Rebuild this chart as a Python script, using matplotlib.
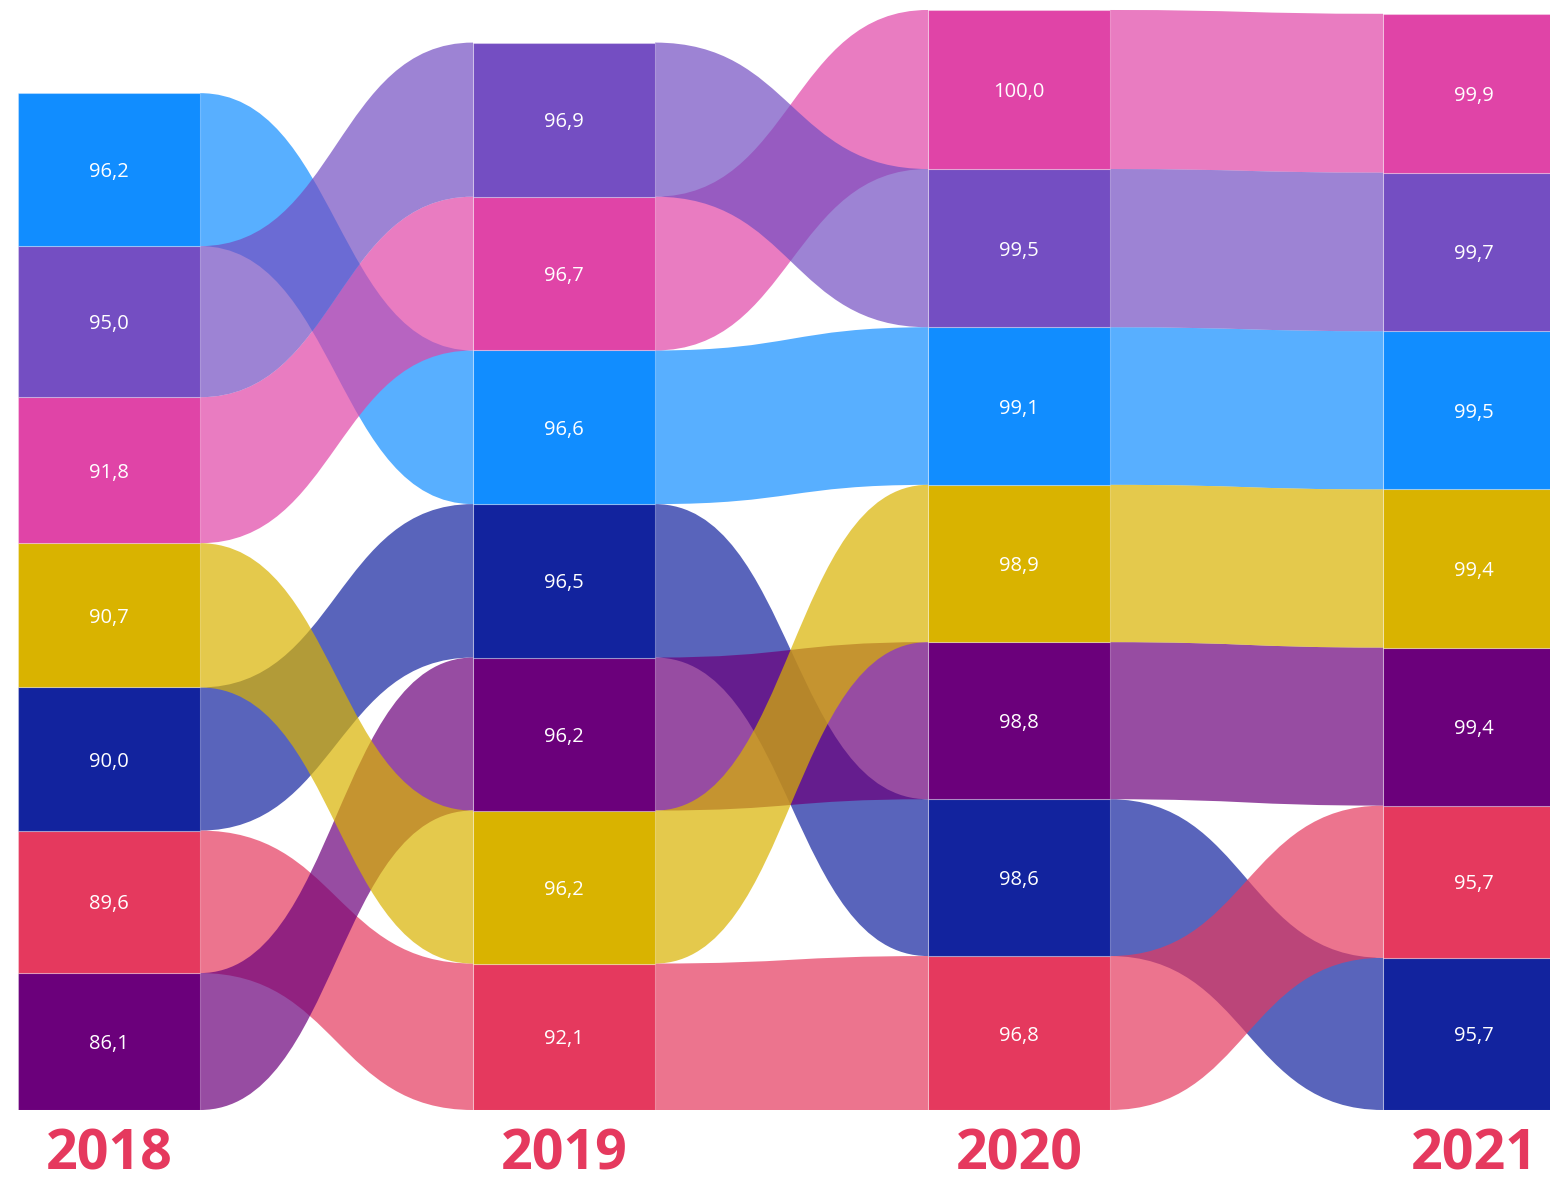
import matplotlib.pyplot as plt
from matplotlib.patches import PathPatch, Rectangle
from matplotlib.path import Path

years = ["2018", "2019", "2020", "2021"]

# series per year, listed from the top of the stack down
order_2018 = ["A", "B", "C", "D", "E", "F", "G"]
values_2018 = [96.2, 95.0, 91.8, 90.7, 90.0, 89.6, 86.1]

order_2019 = ["B", "C", "A", "E", "G", "D", "F"]
values_2019 = [96.9, 96.7, 96.6, 96.5, 96.2, 96.2, 92.1]

order_2020 = ["C", "B", "A", "D", "G", "E", "F"]
values_2020 = [100.0, 99.5, 99.1, 98.9, 98.8, 98.6, 96.8]

order_2021 = ["C", "B", "A", "D", "G", "F", "E"]
values_2021 = [99.9, 99.7, 99.5, 99.4, 99.4, 95.7, 95.7]

# series colours, in the order the ribbons are painted
colors = {
    "A": "#118DFF",
    "E": "#12239E",
    "F": "#E5395E",
    "G": "#6B007B",
    "C": "#E044A7",
    "B": "#744EC2",
    "D": "#D9B300",
}

orders = [order_2018, order_2019, order_2020, order_2021]
values = [values_2018, values_2019, values_2020, values_2021]

BAR_W = 0.4
RIBBON_ALPHA = 0.7
PX_PER_UNIT = 1.5903

plt.rcParams["font.family"] = ["Open Sans", "DejaVu Sans"]

fig = plt.figure(figsize=(15.5, 11.8), dpi=100)
ax = fig.add_axes([18 / 1550, 70 / 1180, 1532 / 1550, 1110 / 1180])
ax.set_xlim(0, 1532 / 455)
ax.set_ylim(0, 1110 / PX_PER_UNIT)
ax.axis("off")

# vertical extent of every block, stacked from the bottom up
spans = []
for order, vals in zip(orders, values):
    span = {}
    base = 0.0
    for cat, v in reversed(list(zip(order, vals))):
        span[cat] = (base, base + v, v)
        base += v
    spans.append(span)


def ribbon_path(x0, x1, b0, t0, b1, t1):
    xm = (x0 + x1) / 2
    verts = [
        (x0, t0), (xm, t0), (xm, t1), (x1, t1),
        (x1, b1), (xm, b1), (xm, b0), (x0, b0),
        (x0, t0),
    ]
    codes = [Path.MOVETO] + [Path.CURVE4] * 3 + [Path.LINETO] + [Path.CURVE4] * 3 + [Path.CLOSEPOLY]
    return Path(verts, codes)


# ribbons between neighbouring years
for i in range(len(years) - 1):
    for cat in colors:
        b0, t0, _ = spans[i][cat]
        b1, t1, _ = spans[i + 1][cat]
        patch = PathPatch(
            ribbon_path(i + BAR_W, i + 1, b0, t0, b1, t1),
            facecolor=colors[cat], alpha=RIBBON_ALPHA, lw=0, zorder=1,
        )
        ax.add_patch(patch)

# solid blocks with their value labels
label_shift = 2.5 / PX_PER_UNIT
for i, span in enumerate(spans):
    for cat, (bot, top, v) in span.items():
        ax.add_patch(Rectangle(
            (i, bot), BAR_W, top - bot, facecolor=colors[cat],
            edgecolor=(1, 1, 1, 0.3), lw=0.8, zorder=2,
        ))
        ax.text(
            i + BAR_W / 2, (bot + top) / 2 - label_shift, f"{v:.1f}".replace(".", ","),
            color="white", fontsize=14.5, ha="center", va="center", zorder=3,
        )
    ax.text(
        i + BAR_W / 2, -45 / PX_PER_UNIT, years[i], color="#E5395E",
        fontsize=40, fontweight="bold", ha="center", va="center", clip_on=False,
    )

fig.savefig("out.png", dpi=100)
